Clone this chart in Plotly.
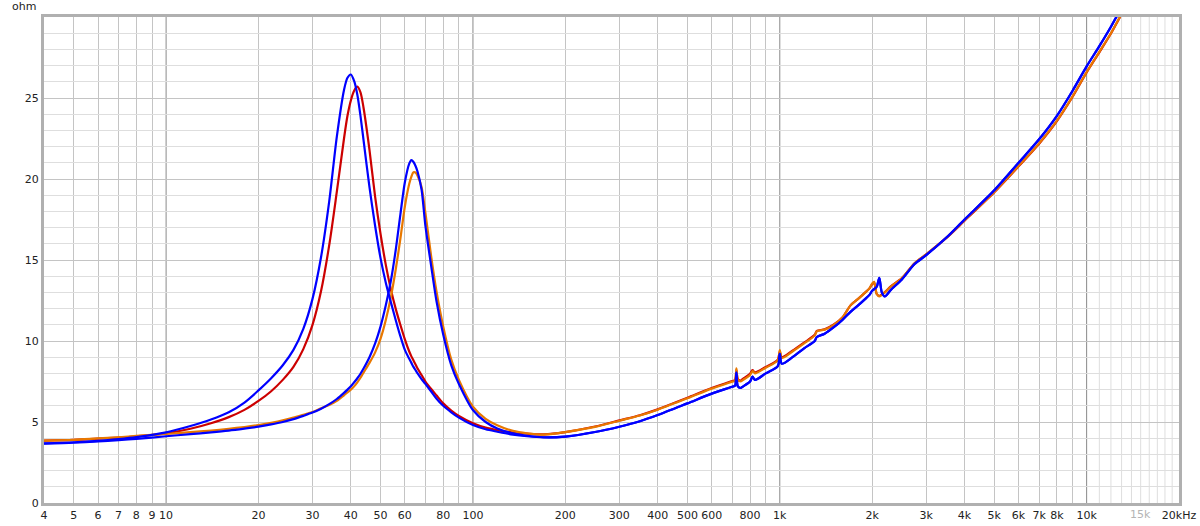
import math
import plotly.graph_objects as go

# ---------------- data ----------------
freq = [4, 5, 6, 7, 8, 10, 12, 14, 16, 18, 20, 22, 24, 26, 28, 30, 32, 34, 36, 38,
        39, 40, 41, 42, 43, 44, 46, 48, 50, 52, 54, 56, 58, 60, 62, 63, 64, 65, 66, 68,
        70, 73, 76, 80, 85, 90, 100, 110, 120, 135, 150, 170, 200, 250, 300, 350, 400,
        500, 600, 700, 715, 722, 730, 745, 760, 800, 815, 830, 900, 985, 1000, 1015,
        1100, 1200, 1300, 1320, 1400, 1500, 1600, 1700, 1800, 1900, 1960, 2000, 2030,
        2070, 2110, 2150, 2200, 2300, 2500, 2750, 3000, 3500, 4000, 5000, 6000, 7000,
        8000, 9000, 10000, 11000, 12000, 13000]

red = [3.85, 3.9, 3.97, 4.04, 4.12, 4.3, 4.58, 4.92, 5.3, 5.75,
       6.3, 6.9, 7.6, 8.4, 9.5, 11.0, 13.1, 15.9, 19.2, 22.5,
       23.9, 24.85, 25.45, 25.7, 25.35, 24.4, 21.8, 18.9, 16.6, 14.7,
       13.2, 12.0, 11.0, 10.1, 9.35, 9.05, 8.8, 8.55, 8.3, 7.9,
       7.5, 7.05, 6.65, 6.15, 5.7, 5.37, 4.92, 4.65, 4.5, 4.35,
       4.28, 4.24, 4.38, 4.72, 5.1, 5.42, 5.78,
       6.5, 7.1, 7.53, 7.6, 8.2, 7.65, 7.56, 7.68, 7.98, 8.2, 8.06, 8.4, 8.85, 9.35, 9.0,
       9.4, 9.9, 10.38, 10.62, 10.72, 11.02, 11.45, 12.2, 12.6, 13.0, 13.25, 13.5, 13.6,
       12.9, 12.78, 12.88, 13.02, 13.37, 13.88, 14.8, 15.35, 16.38, 17.42, 19.18, 20.78, 22.18,
       23.58, 25.08, 26.58, 27.82, 28.98, 30.18]

orange = [3.85, 3.9, 3.99, 4.06, 4.14, 4.26, 4.37, 4.47, 4.58, 4.69,
          4.81, 4.95, 5.1, 5.27, 5.45, 5.62, 5.85, 6.05, 6.3, 6.65,
          6.82, 7.0, 7.2, 7.45, 7.73, 8.05, 8.65, 9.3, 10.15, 11.3,
          12.7, 14.4, 16.3, 18.3, 19.7, 20.15, 20.42, 20.4, 20.2, 19.5,
          17.9, 15.3, 13.1, 10.9, 8.85, 7.6, 5.95, 5.2, 4.8, 4.45,
          4.3, 4.22, 4.38, 4.7, 5.08, 5.4, 5.76,
          6.46, 7.06, 7.49, 7.55, 8.31, 7.6, 7.5, 7.6, 7.9, 8.15, 8.0, 8.35, 8.8, 9.44, 8.95,
          9.35, 9.85, 10.35, 10.6, 10.7, 11.0, 11.45, 12.2, 12.6, 13.0, 13.25, 13.55, 13.65,
          12.9, 12.75, 12.85, 13.0, 13.35, 13.87, 14.8, 15.35, 16.4, 17.45, 19.2, 20.8, 22.2,
          23.6, 25.1, 26.6, 27.85, 29.0, 30.2]

blue_b = [3.66, 3.72, 3.8, 3.88, 3.96, 4.12, 4.25, 4.36, 4.47, 4.59,
          4.71, 4.85, 5.0, 5.18, 5.38, 5.58, 5.82, 6.1, 6.42, 6.8,
          7.0, 7.2, 7.45, 7.7, 7.98, 8.3, 9.0, 9.85, 10.9, 12.2,
          13.7, 15.6, 17.8, 19.8, 20.95, 21.17, 21.05, 20.8, 20.45, 19.35,
          17.1, 14.7, 12.5, 10.4, 8.5, 7.35, 5.74, 5.0, 4.6, 4.3,
          4.15, 4.06, 4.1, 4.38, 4.71, 5.05, 5.43,
          6.15, 6.75, 7.18, 7.25, 8.05, 7.2, 7.1, 7.2, 7.5, 7.8, 7.6, 8.0, 8.45, 9.2, 8.6,
          9.0, 9.55, 10.0, 10.25, 10.45, 10.85, 11.3, 11.8, 12.2, 12.6, 12.85, 13.1, 13.2,
          13.35, 13.9, 13.0, 12.75, 13.15, 13.8, 14.75, 15.3, 16.4, 17.5, 19.3, 21.0, 22.45,
          23.9, 25.45, 26.95, 28.2, 29.4, 30.6]

blue_a = [3.68, 3.75, 3.84, 3.95, 4.07, 4.36, 4.75, 5.15, 5.6, 6.2,
          6.95, 7.7, 8.5, 9.45, 10.75, 12.6, 15.2, 18.6, 22.6, 25.5,
          26.25, 26.45, 26.05, 25.2, 23.9, 22.4, 19.5, 17.1, 15.1, 13.6,
          12.4, 11.3, 10.3, 9.45, 8.9, 8.65, 8.4, 8.2, 8.0, 7.65,
          7.35, 6.9, 6.45, 6.0, 5.6, 5.27, 4.81, 4.55, 4.4, 4.22,
          4.12, 4.05, 4.1, 4.38, 4.71, 5.05, 5.43,
          6.15, 6.75, 7.18, 7.25, 8.05, 7.2, 7.1, 7.2, 7.5, 7.8, 7.6, 8.0, 8.45, 9.2, 8.6,
          9.0, 9.55, 10.0, 10.25, 10.45, 10.85, 11.3, 11.8, 12.2, 12.6, 12.85, 13.1, 13.2,
          13.35, 13.9, 13.0, 12.75, 13.15, 13.8, 14.75, 15.3, 16.4, 17.5, 19.3, 21.0, 22.45,
          23.9, 25.45, 26.95, 28.2, 29.4, 30.6]

series_names = ["red", "orange", "blue B", "blue A"]
series_colors = ["#cc0000", "#e87800", "#0000ff", "#0000ff"]

# x axis: labelled ticks, plain grid positions, fine grid above 10k, decade lines
x_ticks = [4, 5, 6, 7, 8, 9, 10, 20, 30, 40, 50, 60, 80,
           100, 200, 300, 400, 500, 600, 800,
           1000, 2000, 3000, 4000, 5000, 6000, 7000, 8000, 10000, 20000]
x_text = ["4", "5", "6", "7", "8", "9", "10", "20", "30", "40", "50", "60", "80",
          "100", "200", "300", "400", "500", "600", "800",
          "1k", "2k", "3k", "4k", "5k", "6k", "7k", "8k", "10k", "20kHz"]
x_grid = [5, 6, 7, 8, 9, 20, 30, 40, 50, 60, 70, 80, 90,
          200, 300, 400, 500, 600, 700, 800, 900,
          2000, 3000, 4000, 5000, 6000, 7000, 8000, 9000]
x_fine = [11000, 12000, 13000, 14000, 15000, 16000, 17000, 18000, 19000]
decades = [10, 100, 1000, 10000]

y_ticks = [0, 5, 10, 15, 20, 25]

# ---------------- figure ----------------
fig = go.Figure()

for d in decades:
    fig.add_shape(type="line", xref="x", yref="y domain", x0=d, x1=d, y0=0, y1=1,
                  line=dict(color="#8a8a8a", width=1), layer="below")
for d in x_fine:
    fig.add_shape(type="line", xref="x", yref="y domain", x0=d, x1=d, y0=0, y1=1,
                  line=dict(color="#dedede", width=1), layer="below")

for name, ys, col in zip(series_names, [red, orange, blue_b, blue_a], series_colors):
    fig.add_trace(go.Scatter(x=freq, y=ys, name=name, mode="lines",
                             line=dict(color=col, width=2.2, shape="spline", smoothing=0.8),
                             hoverinfo="skip"))

font = dict(family="DejaVu Sans, Verdana, sans-serif", size=11, color="#222222")

fig.update_layout(
    width=1200, height=526,
    margin=dict(l=44, r=21, t=17, b=23, autoexpand=False),
    paper_bgcolor="white", plot_bgcolor="rgba(0,0,0,0)",
    showlegend=False,
    font=font,
    xaxis=dict(type="log", range=[math.log10(4), math.log10(20000)],
               tickmode="array", tickvals=x_ticks, ticktext=x_text,
               showgrid=False,
               minor=dict(tickmode="array", tickvals=x_grid, showgrid=True,
                          gridcolor="#c4c4c4", gridwidth=1, ticks=""),
               ticks="", showline=True, linecolor="#b0b0b0", linewidth=3, mirror=True,
               zeroline=False, tickfont=font, automargin=False),
    yaxis=dict(range=[0, 30], tickmode="array", tickvals=y_ticks,
               showgrid=True, gridcolor="#c4c4c4", gridwidth=1,
               minor=dict(dtick=1, showgrid=True, gridcolor="#dedede", gridwidth=1, ticks=""),
               ticks="", showline=True, linecolor="#b0b0b0", linewidth=3, mirror=True,
               zeroline=False, tickfont=font, automargin=False),
)

fig.add_annotation(text="ohm", xref="paper", yref="paper", x=-6 / 1135, y=1 + 10 / 486,
                   xanchor="right", yanchor="middle", showarrow=False, font=font)
fig.add_annotation(text="15k", xref="x", yref="paper", x=math.log10(15000), y=-3 / 486,
                   xanchor="center", yanchor="top", showarrow=False,
                   font=dict(family=font["family"], size=11, color="#b4b4b4"))

fig.write_html("out.html", config={"displayModeBar": False},
               post_script="document.body.style.margin='0px';document.body.style.overflow='hidden';")
